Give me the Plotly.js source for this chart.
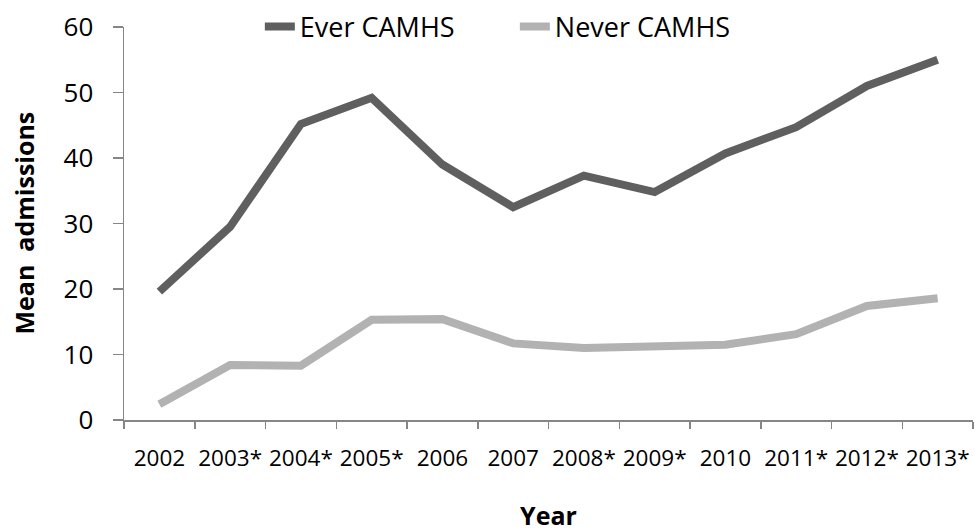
<!DOCTYPE html>
<html>
<head>
<meta charset="utf-8">
<script src="https://cdn.plot.ly/plotly-3.0.1.min.js"></script>
<style>html,body{margin:0;padding:0;background:#fff}#chart{width:975px;height:532px}</style>
</head>
<body>
<div id="chart"></div>
<script>
const years = ["2002","2003*","2004*","2005*","2006","2007","2008*","2009*","2010","2011*","2012*","2013*"];
const everCAMHS = [19.6, 29.5, 45.2, 49.2, 39.0, 32.5, 37.3, 34.8, 40.7, 44.7, 51.0, 55.0];
const neverCAMHS = [2.4, 8.4, 8.3, 15.3, 15.4, 11.7, 11.0, 11.4, 11.5, 13.1, 17.4, 18.6];
const seriesNames = ["Ever CAMHS", "Never CAMHS"];
const xTitle = "Year";
const yTitle = "Mean\u00a0 admissions";

const FONT = "'Open Sans', 'Noto Sans', sans-serif";

const traces = [
  {x: years, y: everCAMHS, name: seriesNames[0], type: "scatter", mode: "lines",
   line: {color: "#5f5f5f", width: 8}},
  {x: years, y: neverCAMHS, name: seriesNames[1], type: "scatter", mode: "lines",
   line: {color: "#b2b2b2", width: 8}}
];

const layout = {
  width: 975, height: 532,
  margin: {l: 124, r: 2, t: 27, b: 112},
  paper_bgcolor: "#fff", plot_bgcolor: "#fff",
  font: {family: FONT, color: "#000"},
  showlegend: true,
  legend: {orientation: "h", x: 0.16, xanchor: "left", y: 1.0, yanchor: "middle",
           font: {family: FONT, size: 27, color: "#000"},
           bgcolor: "rgba(0,0,0,0)", entrywidth: 210, entrywidthmode: "pixels"},
  xaxis: {
    type: "category", range: [-0.5, 11.5], tickson: "boundaries",
    showline: true, linecolor: "#868686", linewidth: 1.5,
    ticks: "outside", ticklen: 7, tickcolor: "#868686", tickwidth: 1.5,
    showgrid: false, zeroline: false, tickangle: 0, automargin: false,
    tickfont: {family: FONT, size: 22.5, color: "#000"},
    ticklabelstandoff: 17,
    title: {text: "<b>" + xTitle + "</b>", font: {family: FONT, size: 25, color: "#000"}, standoff: 38}
  },
  yaxis: {
    range: [0, 60], dtick: 10, tick0: 0,
    showline: true, linecolor: "#868686", linewidth: 1.5,
    ticks: "outside", ticklen: 10, tickcolor: "#868686", tickwidth: 1.5,
    showgrid: false, zeroline: false, automargin: false,
    tickfont: {family: FONT, size: 26, color: "#000"},
    ticklabelstandoff: 14
  },
  annotations: [
    {text: "<b>" + yTitle + "</b>", xref: "paper", yref: "paper",
     x: (23 - 124) / 849, y: 0.5, xanchor: "center", yanchor: "middle",
     textangle: -90, showarrow: false,
     font: {family: FONT, size: 25, color: "#000"}}
  ]
};

Plotly.newPlot("chart", traces, layout, {displayModeBar: false, staticPlot: true});
</script>
</body>
</html>
